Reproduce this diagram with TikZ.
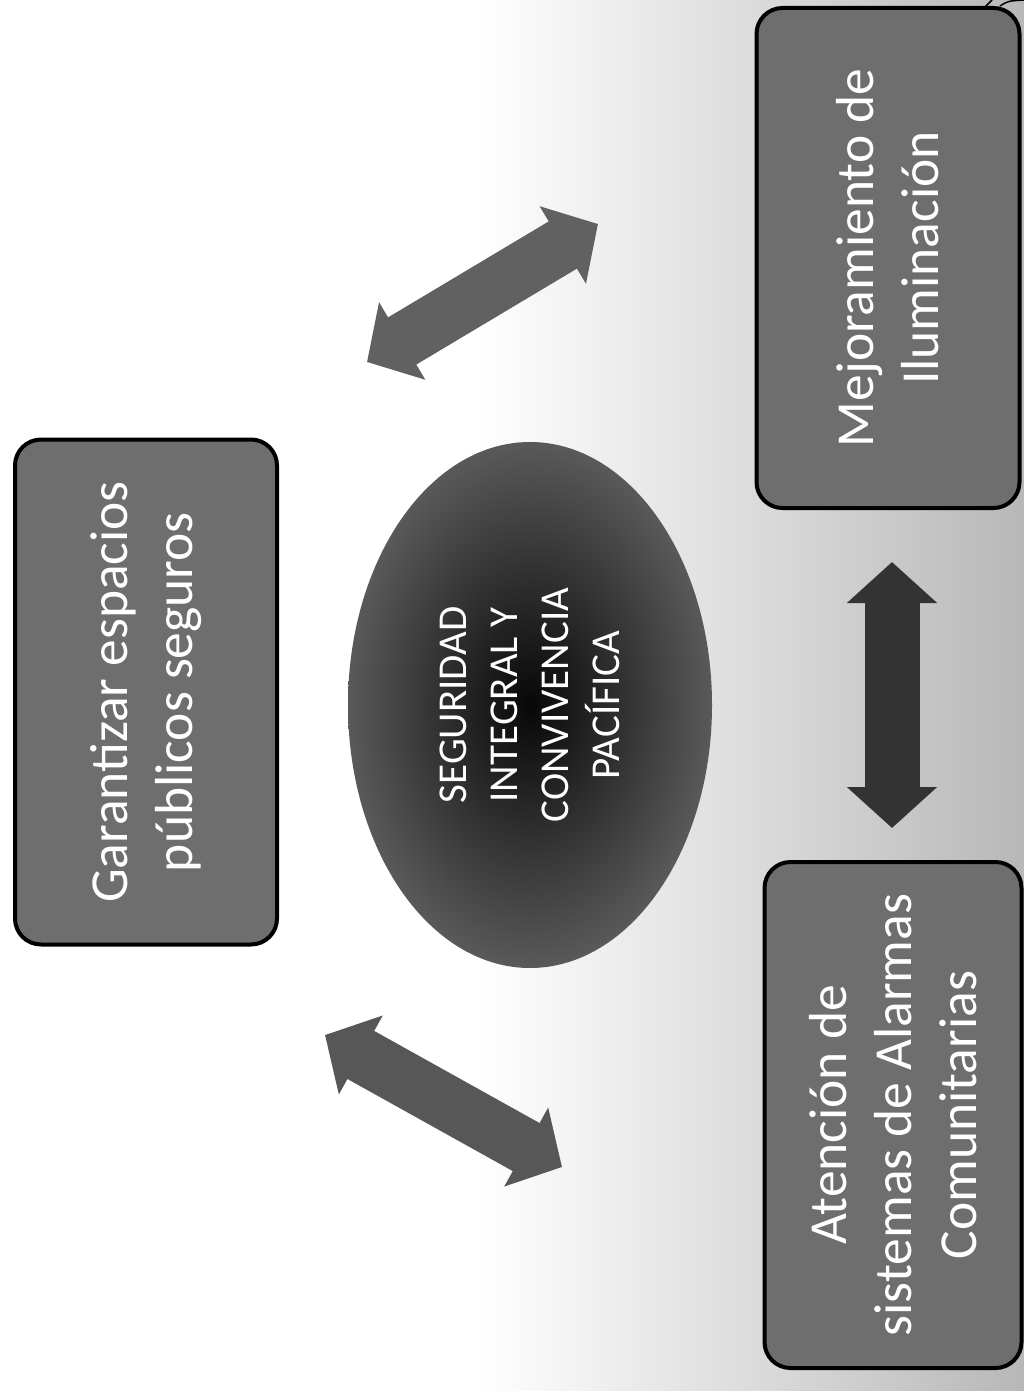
\documentclass[tikz,border=0pt]{standalone}
\usepackage{fontspec}
\setmainfont{Carlito}
\usetikzlibrary{shapes.geometric,arrows.meta}
\begin{document}
\begin{tikzpicture}[x=1pt,y=-1pt,
  boxnode/.style={draw=black, line width=4pt, rounded corners=26pt, fill=black!57,
    text=white, rotate=90, align=center, inner sep=0pt,
    font=\fontsize{53.5}{65}\selectfont},
  hub/.style={ellipse, inner sep=0pt, rotate=90, inner color=black!97, outer color=black!65,
    text=white, align=center, font=\fontsize{41}{51}\selectfont},
  fatarrow/.style={line width=55pt,
    {Triangle[width=88pt,length=41pt]}-{Triangle[width=88pt,length=41pt]}},
]
\useasboundingbox (0,0) rectangle (1024,1391);
\fill[white] (0,0) rectangle (1024,1391);
\shade[left color=white, right color=black!28] (480,0) rectangle (1024,1391);

% nodes
\node[boxnode, minimum width=505pt, minimum height=262pt] (gar) at (146,692)
  {Garantizar espacios\\públicos seguros};
\node[boxnode, minimum width=500pt, minimum height=263pt] (mej) at (888,258)
  {Mejoramiento de\\Iluminación};
\node[boxnode, minimum width=506pt, minimum height=257pt] (ate) at (893,1115)
  {Atención de\\sistemas de Alarmas\\Comunitarias};
\node[hub, minimum width=526pt, minimum height=364pt] (hub) at (530,705)
  {SEGURIDAD\\INTEGRAL Y\\CONVIVENCIA\\PACÍFICA};

% arrow ends
\coordinate (u1) at (367,362);
\coordinate (u2) at (598,224);
\coordinate (l1) at (325,1035);
\coordinate (l2) at (562,1167);
\coordinate (v1) at (892,562);
\coordinate (v2) at (892,828);

\draw[fatarrow, draw=black!62] (u1) -- (u2);
\draw[fatarrow, draw=black!66] (l1) -- (l2);
\draw[fatarrow, draw=black!80] (v1) -- (v2);

% stray stroke at the top right corner
\coordinate (s1) at (984,8);
\coordinate (s2) at (992,0);
\coordinate (s3) at (1000,6);
\coordinate (s4) at (1024,0);
\draw[line width=1.5pt] (s1) -- (s2);
\draw[line width=1.5pt] (s3) .. controls (1008,1) .. (s4);
\end{tikzpicture}
\end{document}
